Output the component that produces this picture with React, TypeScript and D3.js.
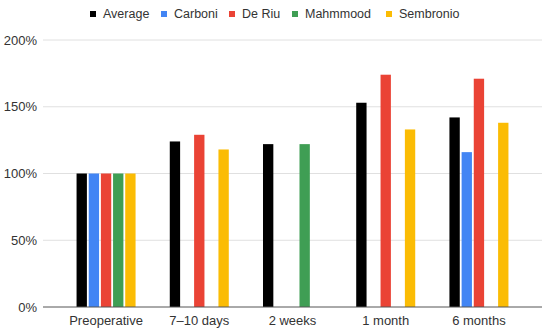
import React from "react";
import * as d3 from "d3";

const categories = ["Preoperative", "7–10 days", "2 weeks", "1 month", "6 months"];
const seriesNames = ["Average", "Carboni", "De Riu", "Mahmmood", "Sembronio"];
const seriesColors = ["#000000", "#4285F4", "#EA4335", "#3f9e54", "#FBBC04"];

const average = [100, 124, 122, 153, 142];
const carboni = [100, null, null, null, 116];
const deRiu = [100, 129, null, 174, 171];
const mahmmood = [100, null, 122, null, null];
const sembronio = [100, 118, null, 133, 138];

const yTicks = [0, 50, 100, 150, 200];

const width = 550;
const height = 332;
const margin = { top: 40, right: 8, bottom: 25, left: 43 };
const font = "Arial, 'Liberation Sans', sans-serif";

const App = () => {
  const series = [average, carboni, deRiu, mahmmood, sembronio];

  const x0 = d3
    .scaleBand()
    .domain(categories)
    .range([margin.left, width - margin.right])
    .paddingInner(0.367)
    .paddingOuter(0.36);

  const x1 = d3
    .scaleBand()
    .domain(seriesNames)
    .range([0, x0.bandwidth()])
    .paddingInner(0.15);

  const y = d3
    .scaleLinear()
    .domain([0, 200])
    .range([height - margin.bottom, margin.top]);

  // legend layout, measured roughly with char widths
  const legendX = [90, 161, 229, 292, 386];

  return (
    <div style={{ position: "absolute", left: 0, top: 0 }}>
      <svg width={width} height={height} style={{ display: "block", background: "#fff" }}>
        {/* gridlines */}
        {yTicks.map((t) => (
          <g key={t}>
            {t !== 0 && (
              <line
                x1={margin.left}
                x2={width - margin.right}
                y1={y(t)}
                y2={y(t)}
                stroke="#e0e0e0"
                strokeWidth={1}
              />
            )}
            <text
              x={37}
              y={y(t)}
              dy="0.35em"
              textAnchor="end"
              fontFamily={font}
              fontSize={13}
              fill="#333"
            >
              {t}%
            </text>
          </g>
        ))}

        {/* bars */}
        {categories.map((c, i) => (
          <g key={c} transform={`translate(${x0(c)},0)`}>
            {series.map((s, j) =>
              s[i] == null ? null : (
                <rect
                  key={j}
                  x={x1(seriesNames[j])}
                  y={y(s[i] as number)}
                  width={x1.bandwidth()}
                  height={y(0) - y(s[i] as number)}
                  fill={seriesColors[j]}
                />
              )
            )}
          </g>
        ))}

        {/* baseline */}
        <line
          x1={margin.left}
          x2={width - margin.right}
          y1={y(0)}
          y2={y(0)}
          stroke="#555"
          strokeWidth={1}
        />

        {/* x labels */}
        {categories.map((c) => (
          <text
            key={c}
            x={(x0(c) as number) + x0.bandwidth() / 2}
            y={320}
            dy="0.35em"
            textAnchor="middle"
            fontFamily={font}
            fontSize={13}
            fill="#333"
          >
            {c}
          </text>
        ))}

        {/* legend */}
        {seriesNames.map((n, j) => (
          <g key={n} transform={`translate(${legendX[j]},14)`}>
            <rect x={0} y={-3} width={6} height={6} fill={seriesColors[j]} />
            <text x={13} y={0} dy="0.35em" fontFamily={font} fontSize={12.5} fill="#333">
              {n}
            </text>
          </g>
        ))}
      </svg>
    </div>
  );
};

export default App;
